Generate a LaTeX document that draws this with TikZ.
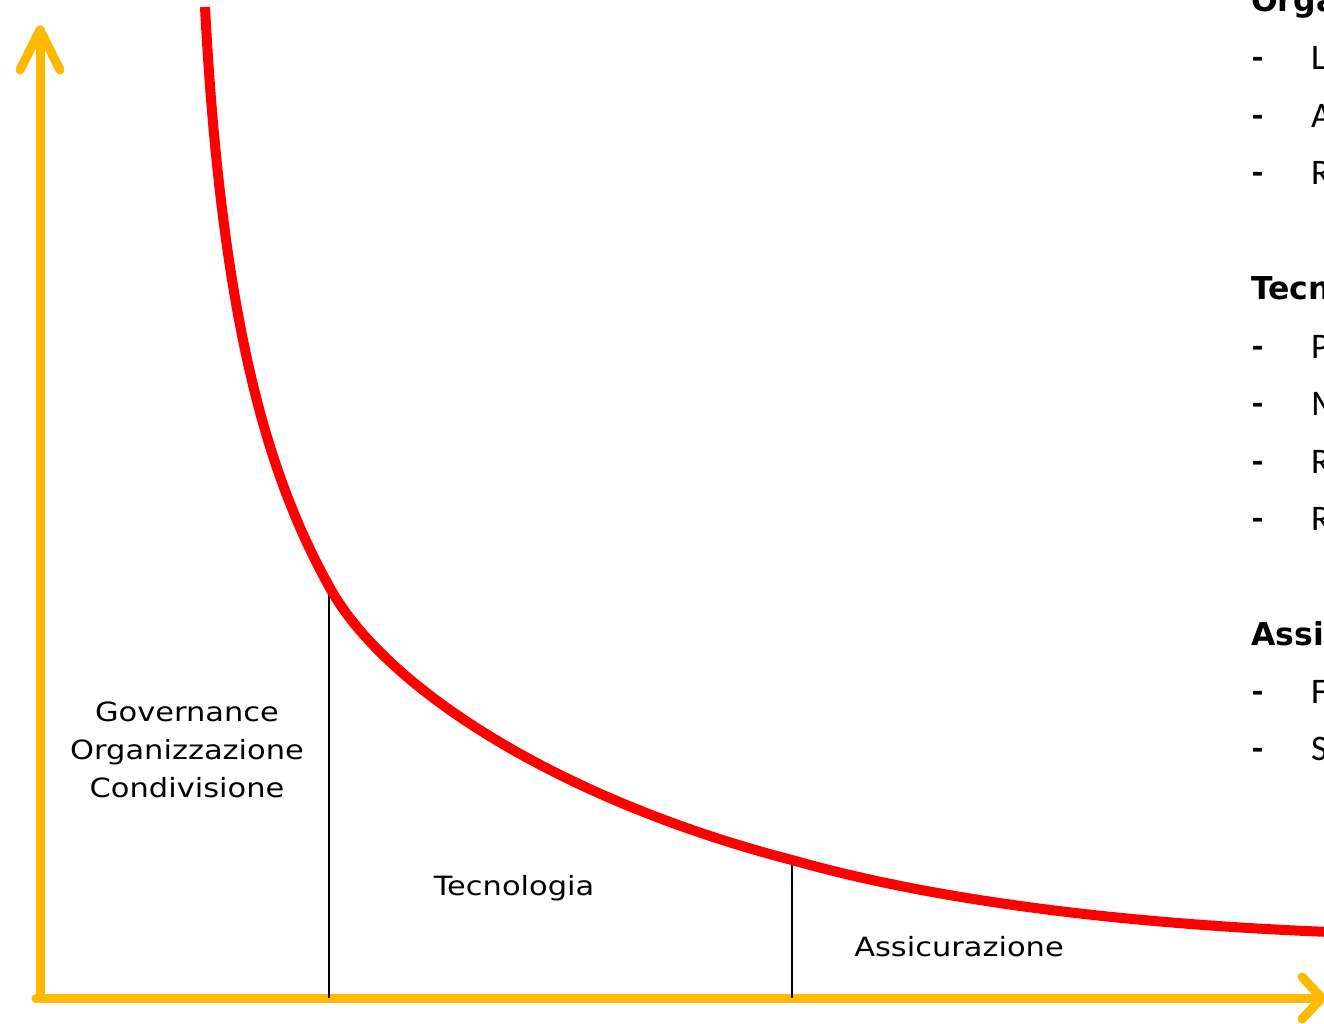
\documentclass[tikz,border=0pt]{standalone}
\usepackage{fontspec}
\setmainfont{DejaVu Sans}
\newfontfamily\zonefont[FakeStretch=1.15]{DejaVu Sans}
\newfontfamily\listfont{Carlito}
\begin{document}
\begin{tikzpicture}[x=1pt,y=-1pt,
  axis/.style={line width=9pt,color=axisorange,line cap=round,line join=round},
  curve/.style={line width=10pt,color=red},
  divider/.style={line width=2pt,black},
  zone/.style={font=\zonefont\fontsize{26.5}{38}\selectfont,align=center,inner sep=0pt},
  head/.style={font=\fontsize{31.5}{36}\bfseries\selectfont,anchor=base west,inner sep=0pt},
  item/.style={font=\listfont\fontsize{36}{40}\selectfont,anchor=base west,inner sep=0pt},
  dashmark/.style={font=\listfont\fontsize{36}{40}\bfseries\selectfont,anchor=base west,inner sep=0pt}]
\definecolor{axisorange}{HTML}{FFB900}
\path[use as bounding box] (0,0) rectangle (1324,1024);
\clip (0,0) rectangle (1324,1024);

% axes
\coordinate (origin) at (40,998);
\coordinate (ytip) at (40,30);
\coordinate (xtip) at (1322,998);
\draw[axis] (origin) -- (ytip);
\draw[axis] (20,70) -- (ytip) -- (60,70);
\draw[axis] (36,998) -- (xtip);
\draw[axis] (1302,977) -- (xtip) -- (1302,1019);

% dividing lines
\coordinate (d1top) at (329,586);
\coordinate (d1bot) at (329,998);
\coordinate (d2top) at (792,861);
\coordinate (d2bot) at (792,998);
\draw[divider] (d1top) -- (d1bot);
\draw[divider] (d2top) -- (d2bot);

% cost curve
\coordinate (c0) at (205,7);
\coordinate (c1) at (330,588);
\coordinate (c2) at (792,860);
\coordinate (c3) at (1330,932);
\draw[curve] (c0) .. controls (222,330) and (270,480) .. (c1)
                  .. controls (386,689) and (560,800) .. (c2)
                  .. controls (950,905) and (1150,925) .. (c3);

% zone labels
\node[zone] (gov) at (187,750) {Governance\\Organizzazione\\Condivisione};
\node[zone] (tec) at (514,888) {Tecnologia};
\node[zone] (ass) at (959,947) {Assicurazione};

% side list
\node[head] (h1) at (1251,12) {Organizzazione};
\foreach \y/\t [count=\i] in {70/L,128/A,185/R}{
  \node[dashmark] (da\i) at (1252,\y) {-};
  \node[item] (ia\i) at (1311,\y) {\t};
}
\node[head] (h2) at (1251,299) {Tecnologia};
\foreach \y/\t [count=\i] in {358/P,415/M,473/R,530/R}{
  \node[dashmark] (db\i) at (1252,\y) {-};
  \node[item] (ib\i) at (1311,\y) {\t};
}
\node[head] (h3) at (1251,645) {Assicurazione};
\foreach \y/\t [count=\i] in {703/F,760/S}{
  \node[dashmark] (dc\i) at (1252,\y) {-};
  \node[item] (ic\i) at (1311,\y) {\t};
}
\end{tikzpicture}
\end{document}
